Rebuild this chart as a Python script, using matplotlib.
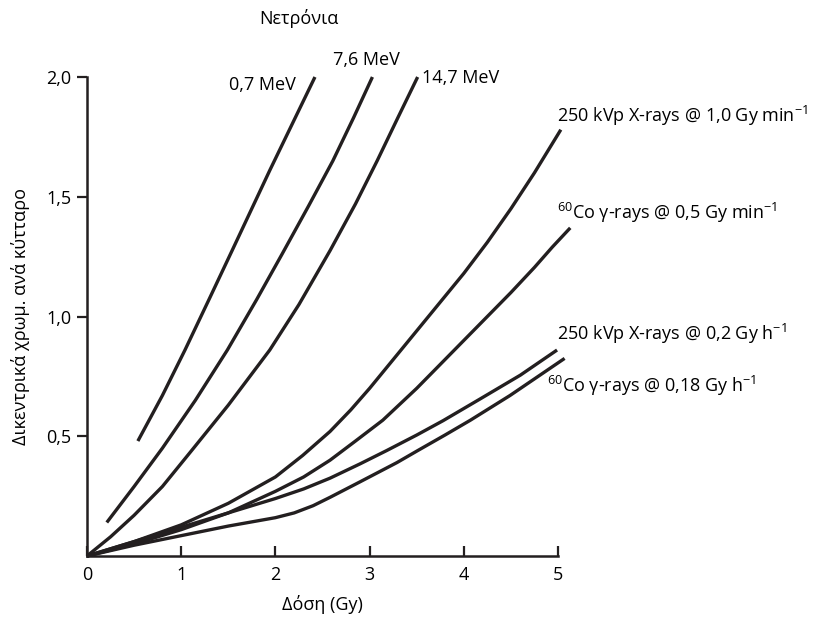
import matplotlib
matplotlib.use('Agg')
import matplotlib.pyplot as plt

plt.rcParams['font.family'] = ['Open Sans', 'DejaVu Sans']
plt.rcParams['mathtext.fontset'] = 'custom'
plt.rcParams['mathtext.rm'] = 'Open Sans'
plt.rcParams['mathtext.it'] = 'Open Sans'
plt.rcParams['mathtext.bf'] = 'Open Sans'

# neutrons
n07_x = [0.54, 0.80, 1.04, 1.30, 1.54, 1.94, 2.42]
n07_y = [0.48, 0.67, 0.86, 1.075, 1.275, 1.61, 2.00]
n76_x = [0.21, 0.50, 0.80, 1.15, 1.49, 1.80, 2.07, 2.35, 2.61, 2.83, 3.03]
n76_y = [0.14, 0.29, 0.45, 0.65, 0.86, 1.07, 1.26, 1.46, 1.65, 1.83, 2.00]
n147_x = [0.0, 0.25, 0.5, 0.8, 1.11, 1.5, 1.94, 2.25, 2.58, 2.85, 3.08, 3.3, 3.51]
n147_y = [0.0, 0.08, 0.17, 0.29, 0.44, 0.63, 0.86, 1.05, 1.275, 1.47, 1.65, 1.83, 2.00]

# x-rays / gamma
xr10_x = [0.0, 0.5, 1.0, 1.5, 2.0, 2.29, 2.58, 2.8, 3.0, 3.25, 3.5, 3.75, 4.0, 4.25, 4.5, 4.75, 5.03]
xr10_y = [0.0, 0.06, 0.13, 0.22, 0.33, 0.42, 0.52, 0.61, 0.70, 0.82, 0.94, 1.06, 1.18, 1.31, 1.45, 1.60, 1.78]
co05_x = [0.0, 0.5, 1.0, 1.5, 2.0, 2.3, 2.58, 2.85, 3.14, 3.5, 3.75, 4.0, 4.25, 4.5, 4.75, 4.94, 5.13]
co05_y = [0.0, 0.05, 0.11, 0.18, 0.27, 0.33, 0.40, 0.48, 0.567, 0.70, 0.80, 0.90, 1.00, 1.10, 1.205, 1.29, 1.37]
xr02_x = [0.0, 0.5, 1.0, 1.5, 2.0, 2.3, 2.58, 2.9, 3.18, 3.5, 3.78, 4.17, 4.6, 4.99]
xr02_y = [0.0, 0.06, 0.12, 0.18, 0.24, 0.28, 0.325, 0.385, 0.44, 0.505, 0.565, 0.655, 0.755, 0.86]
co018_x = [0.0, 0.5, 1.0, 1.5, 2.0, 2.2, 2.4, 2.58, 2.9, 3.29, 3.51, 3.8, 4.07, 4.49, 5.07]
co018_y = [0.0, 0.045, 0.085, 0.125, 0.16, 0.18, 0.21, 0.245, 0.31, 0.39, 0.44, 0.505, 0.567, 0.67, 0.825]

xticks = [0, 1, 2, 3, 4, 5]
yticks = [0.5, 1.0, 1.5, 2.0]
ytick_labels = ['0,5', '1,0', '1,5', '2,0']

fig = plt.figure(figsize=(8.18, 6.17), dpi=100)
ax = fig.add_axes([87/818, 1-556/617, 471/818, 479/617])

lw = 2.4
for xs, ys in [(n07_x, n07_y), (n76_x, n76_y), (n147_x, n147_y),
               (xr10_x, xr10_y), (co05_x, co05_y), (xr02_x, xr02_y), (co018_x, co018_y)]:
    ax.plot(xs, ys, color='#231f20', lw=lw, clip_on=False,
            solid_capstyle='butt', solid_joinstyle='round')

ax.set_xlim(0, 5)
ax.set_ylim(0, 2)
ax.spines['top'].set_visible(False)
ax.spines['right'].set_visible(False)
for s in ['left', 'bottom']:
    ax.spines[s].set_linewidth(1.8)
    ax.spines[s].set_color('#231f20')

ax.set_xticks(xticks)
ax.set_xticklabels([str(t) for t in xticks])
ax.set_yticks(yticks)
ax.set_yticklabels(ytick_labels)
ax.tick_params(axis='x', direction='in', length=7, width=1.6, labelsize=13, pad=7, color='#231f20')
ax.tick_params(axis='y', direction='out', length=7, width=1.6, labelsize=13, pad=4, color='#231f20')

ax.set_xlabel('Δόση (Gy)', fontsize=13, labelpad=8)
ax.set_ylabel('Δικεντρικά χρωμ. ανά κύτταρο', fontsize=13, labelpad=12)

fs = 13
fig.text(299/818, 1-18/617, 'Νετρόνια', fontsize=fs, ha='center', va='center')
fig.text(296/818, 1-85/617, '0,7 MeV', fontsize=fs, ha='right', va='center')
fig.text(366/818, 1-60/617, '7,6 MeV', fontsize=fs, ha='center', va='center')
fig.text(422/818, 1-78/617, '14,7 MeV', fontsize=fs, ha='left', va='center')
fig.text(557/818, 1-116/617, r'250 kVp X-rays @ 1,0 Gy min$^{\mathregular{-1}}$', fontsize=fs, ha='left', va='center')
fig.text(557/818, 1-213/617, r'$^{\mathregular{60}}$Co γ-rays @ 0,5 Gy min$^{\mathregular{-1}}$', fontsize=fs, ha='left', va='center')
fig.text(557/818, 1-334/617, r'250 kVp X-rays @ 0,2 Gy h$^{\mathregular{-1}}$', fontsize=fs, ha='left', va='center')
fig.text(547/818, 1-386/617, r'$^{\mathregular{60}}$Co γ-rays @ 0,18 Gy h$^{\mathregular{-1}}$', fontsize=fs, ha='left', va='center')

fig.savefig('out.png', dpi=100)
